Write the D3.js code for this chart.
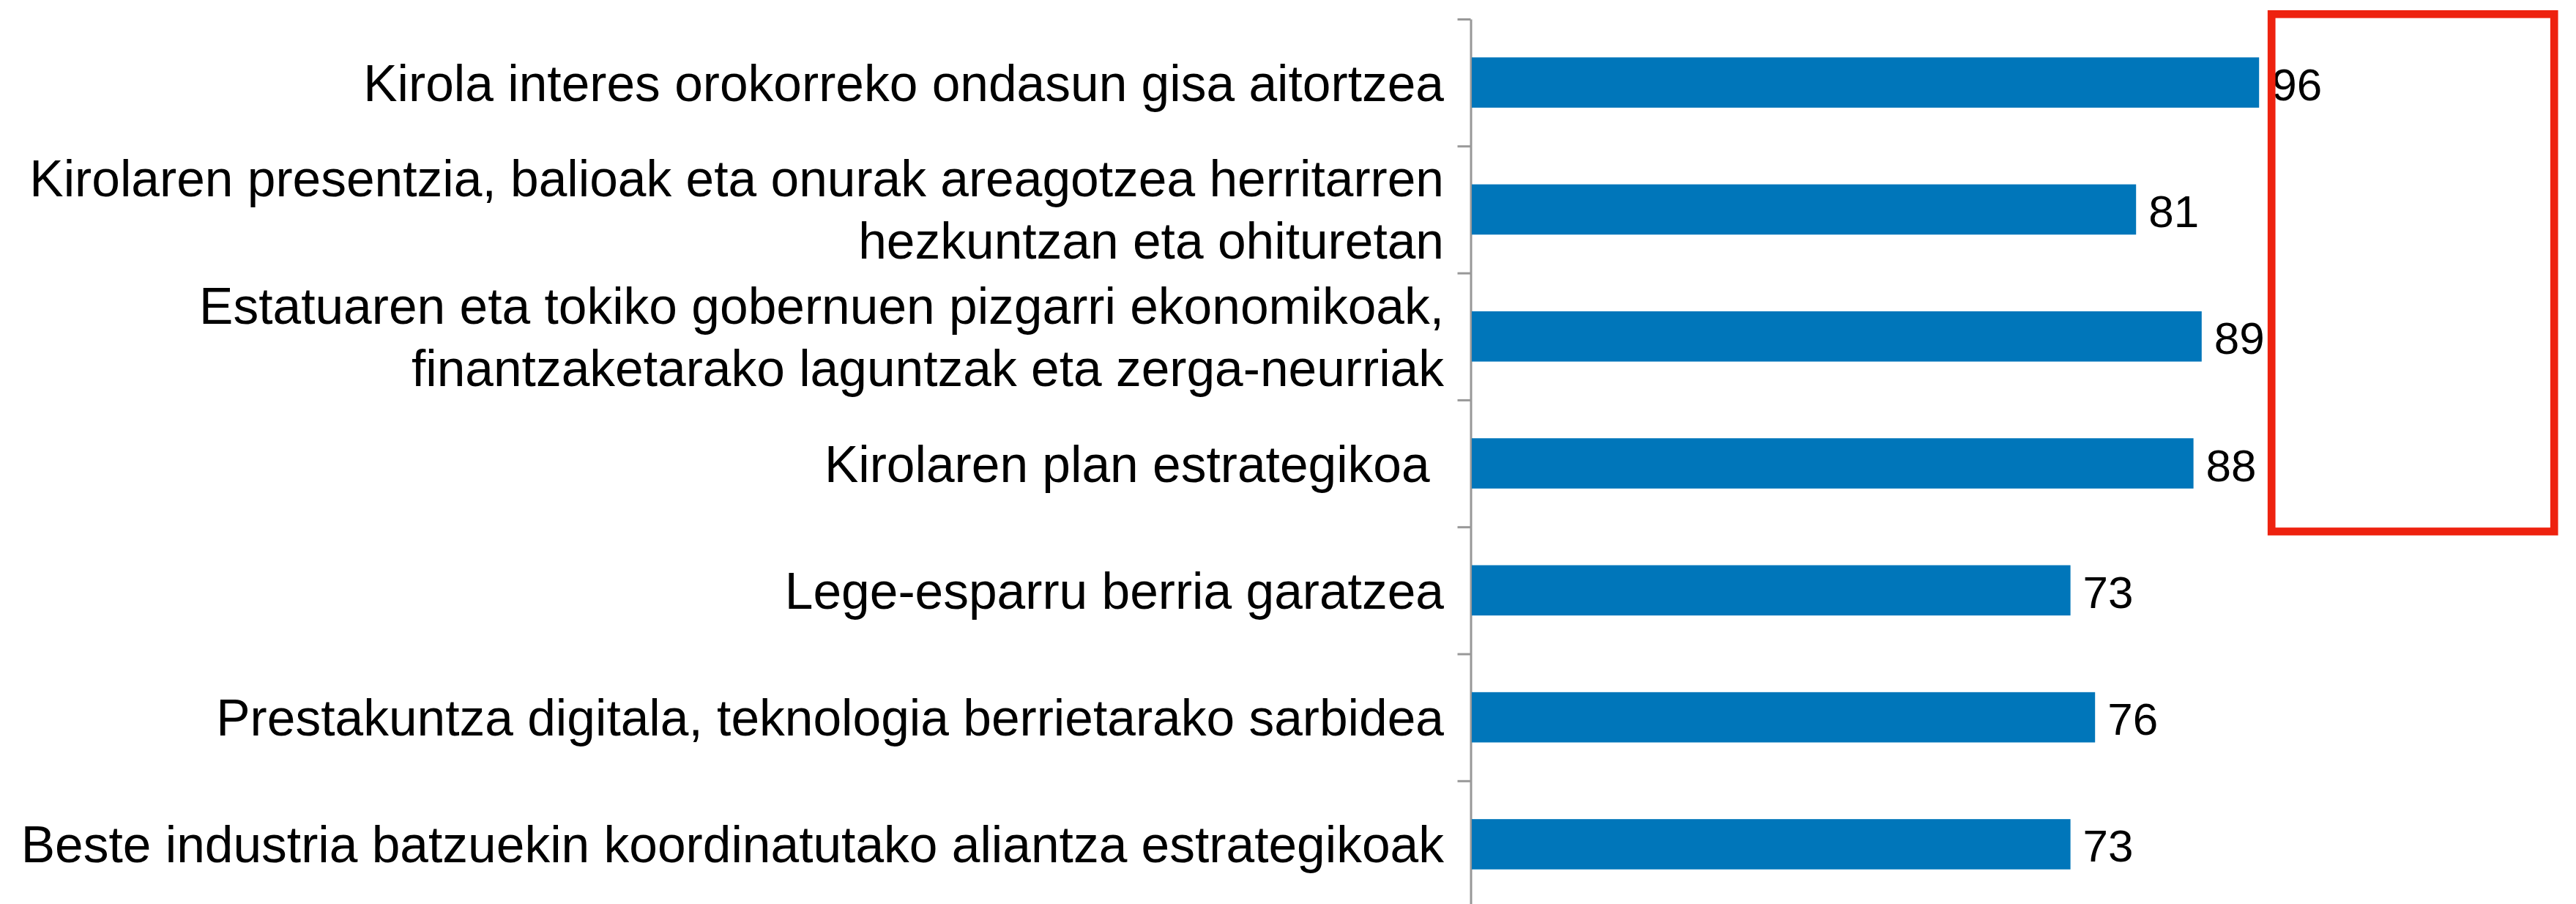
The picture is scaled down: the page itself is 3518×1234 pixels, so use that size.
<!DOCTYPE html>
<html>
<head>
<meta charset="utf-8">
<script src="https://cdn.jsdelivr.net/npm/d3@7"></script>
<style>
  body { margin: 0; background: #fff; }
  svg { display: block; }
</style>
</head>
<body>
<div id="chart"></div>
<script>
// Categories (one entry per line of the label) and their values
const categories = [
  ["Kirola interes orokorreko ondasun gisa aitortzea"],
  ["Kirolaren presentzia, balioak eta onurak areagotzea herritarren", "hezkuntzan eta ohituretan"],
  ["Estatuaren eta tokiko gobernuen pizgarri ekonomikoak,", "finantzaketarako laguntzak eta zerga-neurriak"],
  ["Kirolaren plan estrategikoa "],
  ["Lege-esparru berria garatzea"],
  ["Prestakuntza digitala, teknologia berrietarako sarbidea"],
  ["Beste industria batzuekin koordinatutako aliantza estrategikoak"]
];
const values = [96, 81, 89, 88, 73, 76, 73];
const xDomain = [0, 100];

const width = 3518;
const height = 1234;
const font = "'Liberation Sans', Arial, Helvetica, sans-serif";

const data = categories.map((lines, i) => ({ key: lines.join(" "), lines, value: values[i] }));

const svg = d3.select("#chart")
  .append("svg")
  .attr("width", width)
  .attr("height", height);

// Scales
const axisX = 2008.5;
const plotTop = 26, step = 173.3;
const y = d3.scaleBand()
  .domain(data.map(d => d.key))
  .range([plotTop, plotTop + step * data.length])
  .paddingInner(0.604)
  .paddingOuter(0.302);

const x = d3.scaleLinear()
  .domain(xDomain)
  .range([2010, 3130]);

// Category axis: ticks sit between the bands
const yEdge = d3.scaleLinear()
  .domain([0, data.length])
  .range(y.range());

const axis = svg.append("g")
  .attr("transform", `translate(${axisX},0)`)
  .call(d3.axisLeft(yEdge)
    .tickValues(d3.range(data.length + 1))
    .tickSize(18)
    .tickSizeOuter(0)
    .tickFormat(""));
axis.selectAll("path, line")
  .attr("stroke", "#989898")
  .attr("stroke-width", 3);

// Bars
svg.selectAll(".bar")
  .data(data)
  .enter().append("rect")
  .attr("class", "bar")
  .attr("x", x(0))
  .attr("y", d => y(d.key))
  .attr("width", d => x(d.value) - x(0))
  .attr("height", y.bandwidth())
  .attr("fill", "#0076ba");

// Value labels
svg.selectAll(".value")
  .data(data)
  .enter().append("text")
  .attr("class", "value")
  .attr("x", d => x(d.value) + 17)
  .attr("y", d => y(d.key) + y.bandwidth() / 2 + 24)
  .style("font-family", font)
  .style("font-size", "62px")
  .style("fill", "#000")
  .text(d => d.value);

// Category labels
const lineHeight = 85;
const labels = svg.selectAll(".cat")
  .data(data)
  .enter().append("text")
  .attr("class", "cat")
  .attr("text-anchor", "end")
  .style("white-space", "pre")
  .style("font-family", font)
  .style("font-size", "69.5px")
  .style("fill", "#000");

labels.selectAll("tspan")
  .data(d => d.lines.map((t, i) => ({ t, i, n: d.lines.length, c: y(d.key) + y.bandwidth() / 2 })))
  .enter().append("tspan")
  .attr("x", 1972)
  .attr("y", l => l.c + 25 + (l.i - (l.n - 1) / 2) * lineHeight)
  .text(l => l.t);

// Red highlight box around the value labels of the first four bars
const boxLeft = x(d3.max(values)) + 17;
svg.append("rect")
  .attr("x", boxLeft)
  .attr("y", yEdge(0) - 6.7)
  .attr("width", 386)
  .attr("height", yEdge(4) - yEdge(0) + 13)
  .attr("fill", "none")
  .attr("stroke", "#ee220f")
  .attr("stroke-width", 10.7);
</script>
</body>
</html>
